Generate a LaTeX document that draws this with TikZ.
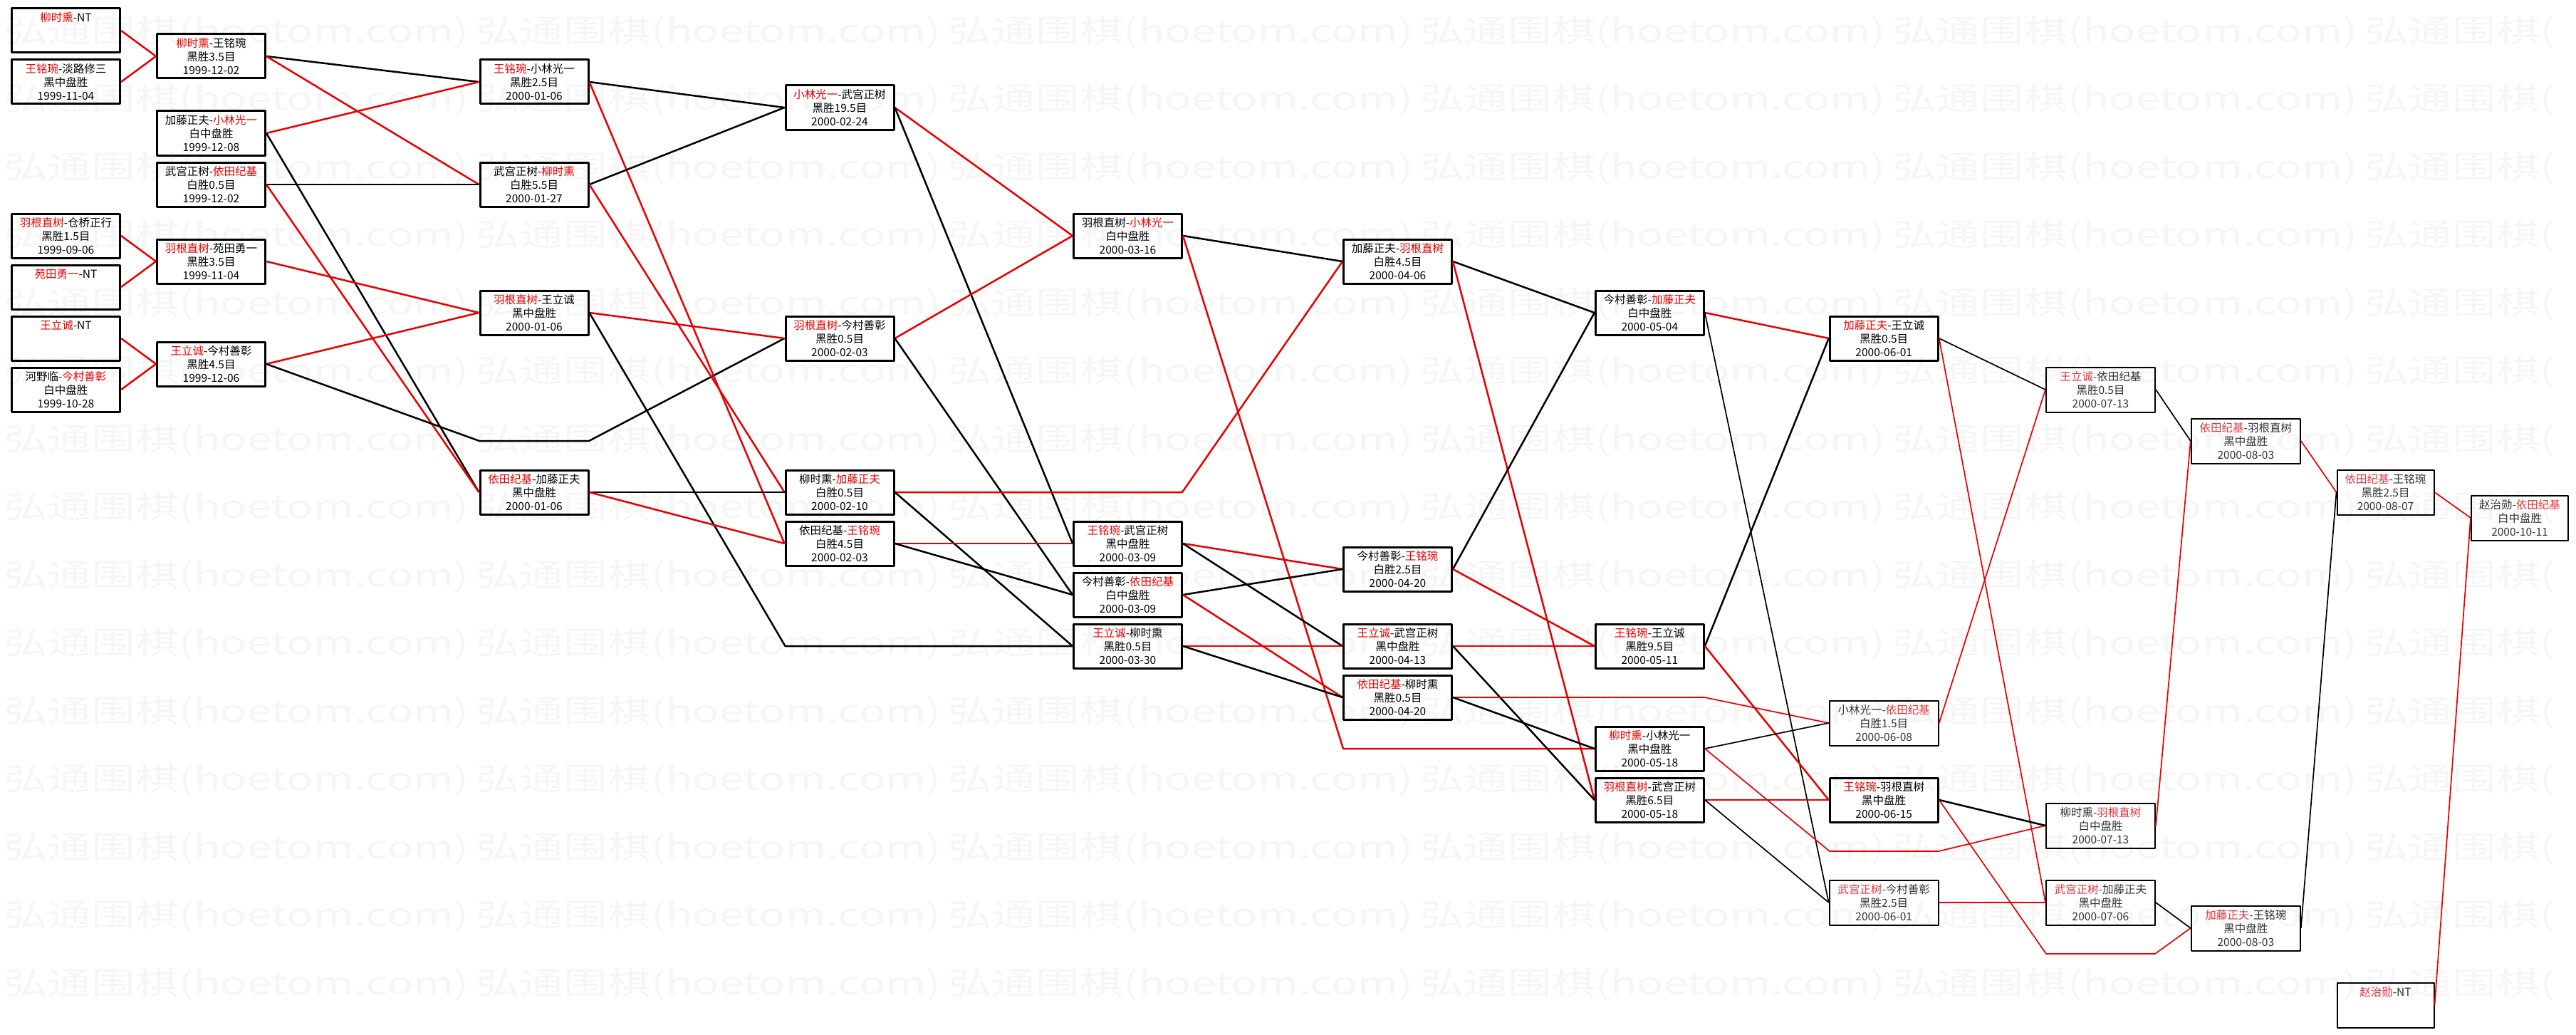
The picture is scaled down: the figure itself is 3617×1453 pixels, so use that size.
\documentclass[tikz,border=0pt]{standalone}
\usepackage{fontspec}
\setmainfont{Noto Sans CJK SC}
\definecolor{winred}{RGB}{232,0,0}
\definecolor{latered}{RGB}{226,52,58}
\colorlet{namered}{winred}
\newcommand{\win}[1]{\textcolor{namered}{#1}}
\newcommand{\gs}{\rule[-2.6pt]{0pt}{18.1pt}}
\newcommand{\gamerec}[3]{\gs#1\\\gs#2\\\gs#3}
\newcommand{\wm}[1]{\scalebox{1.4}[1]{#1}}

\begin{document}
\begin{tikzpicture}[x=1pt, y=-1pt, line join=round,
    game/.style={draw, line width=3pt, minimum width=152pt, minimum height=62pt,
      inner sep=0pt, align=center, font=\fontsize{15.5}{18.7}\selectfont},
    late/.style={game, line width=2pt, minimum width=153pt, minimum height=63pt,
      text=black!80, execute at begin node=\colorlet{namered}{latered}},
    narrow/.style={minimum width=136pt},
    won/.style={draw=winred, line width=2.5pt},
    lost/.style={draw=black, line width=2.5pt},
    thin/.style={line width=1.7pt},
    wmark/.style={anchor=west, inner sep=0pt, text=black!3.5,
      font=\fontsize{44}{44}\selectfont}]
  \def\colA{92.5}  \def\colB{296.5} \def\colC{750}    \def\colD{1179}
  \def\colE{1583.5}\def\colF{1962.5}\def\colG{2316.3} \def\colH{2645.2}
  \def\colI{2949.5}\def\colJ{3153.3}\def\colK{3349.5} \def\colL{3538}
  \useasboundingbox (0,0) rectangle (3617,1453);
  \fill[white] (0,0) rectangle (3617,1453);

  % watermark
  \foreach \k in {0,...,14} {
    \foreach \i in {0,...,4}
      \node[wmark] at (5+663*\i, 45+95.5*\k) {\wm{弘通围棋(hoetom.com)}};
    \node[wmark] at (3320, 45+95.5*\k) {\wm{弘通围棋(}};
  }

  % games
  \node[game] (a1) at (\colA,43)  {\gamerec{\win{柳时熏}-NT}{}{}};
  \node[game] (a2) at (\colA,115) {\gamerec{\win{王铭琬}-淡路修三}{黑中盘胜}{1999-11-04}};
  \node[game] (a3) at (\colA,331) {\gamerec{\win{羽根直树}-仓桥正行}{黑胜1.5目}{1999-09-06}};
  \node[game] (a4) at (\colA,403) {\gamerec{\win{苑田勇一}-NT}{}{}};
  \node[game] (a5) at (\colA,475) {\gamerec{\win{王立诚}-NT}{}{}};
  \node[game] (a6) at (\colA,547) {\gamerec{河野临-\win{今村善彰}}{白中盘胜}{1999-10-28}};

  \node[game] (b1) at (\colB,79)  {\gamerec{\win{柳时熏}-王铭琬}{黑胜3.5目}{1999-12-02}};
  \node[game] (b2) at (\colB,187) {\gamerec{加藤正夫-\win{小林光一}}{白中盘胜}{1999-12-08}};
  \node[game] (b3) at (\colB,259) {\gamerec{武宫正树-\win{依田纪基}}{白胜0.5目}{1999-12-02}};
  \node[game] (b4) at (\colB,367) {\gamerec{\win{羽根直树}-苑田勇一}{黑胜3.5目}{1999-11-04}};
  \node[game] (b5) at (\colB,511) {\gamerec{\win{王立诚}-今村善彰}{黑胜4.5目}{1999-12-06}};

  \node[game] (c1) at (\colC,115) {\gamerec{\win{王铭琬}-小林光一}{黑胜2.5目}{2000-01-06}};
  \node[game] (c2) at (\colC,259) {\gamerec{武宫正树-\win{柳时熏}}{白胜5.5目}{2000-01-27}};
  \node[game] (c3) at (\colC,439) {\gamerec{\win{羽根直树}-王立诚}{黑中盘胜}{2000-01-06}};
  \node[game] (c4) at (\colC,691) {\gamerec{\win{依田纪基}-加藤正夫}{黑中盘胜}{2000-01-06}};

  \node[game] (d1) at (\colD,151) {\gamerec{\win{小林光一}-武宫正树}{黑胜19.5目}{2000-02-24}};
  \node[game] (d2) at (\colD,475) {\gamerec{\win{羽根直树}-今村善彰}{黑胜0.5目}{2000-02-03}};
  \node[game] (d3) at (\colD,691) {\gamerec{柳时熏-\win{加藤正夫}}{白胜0.5目}{2000-02-10}};
  \node[game] (d4) at (\colD,763) {\gamerec{依田纪基-\win{王铭琬}}{白胜4.5目}{2000-02-03}};

  \node[game] (e1) at (\colE,331) {\gamerec{羽根直树-\win{小林光一}}{白中盘胜}{2000-03-16}};
  \node[game] (e2) at (\colE,763) {\gamerec{\win{王铭琬}-武宫正树}{黑中盘胜}{2000-03-09}};
  \node[game] (e3) at (\colE,835) {\gamerec{今村善彰-\win{依田纪基}}{白中盘胜}{2000-03-09}};
  \node[game] (e4) at (\colE,907) {\gamerec{\win{王立诚}-柳时熏}{黑胜0.5目}{2000-03-30}};

  \node[game] (f1) at (\colF,367) {\gamerec{加藤正夫-\win{羽根直树}}{白胜4.5目}{2000-04-06}};
  \node[game] (f2) at (\colF,799) {\gamerec{今村善彰-\win{王铭琬}}{白胜2.5目}{2000-04-20}};
  \node[game] (f3) at (\colF,907) {\gamerec{\win{王立诚}-武宫正树}{黑中盘胜}{2000-04-13}};
  \node[game] (f4) at (\colF,979) {\gamerec{\win{依田纪基}-柳时熏}{黑胜0.5目}{2000-04-20}};

  \node[game] (g1) at (\colG,439)  {\gamerec{今村善彰-\win{加藤正夫}}{白中盘胜}{2000-05-04}};
  \node[game] (g2) at (\colG,907)  {\gamerec{\win{王铭琬}-王立诚}{黑胜9.5目}{2000-05-11}};
  \node[game] (g3) at (\colG,1051) {\gamerec{\win{柳时熏}-小林光一}{黑中盘胜}{2000-05-18}};
  \node[game] (g4) at (\colG,1123) {\gamerec{\win{羽根直树}-武宫正树}{黑胜6.5目}{2000-05-18}};

  \node[game] (h1) at (\colH,475)  {\gamerec{\win{加藤正夫}-王立诚}{黑胜0.5目}{2000-06-01}};
  \node[late] (h2) at (\colH,1015) {\gamerec{小林光一-\win{依田纪基}}{白胜1.5目}{2000-06-08}};
  \node[game] (h3) at (\colH,1123) {\gamerec{\win{王铭琬}-羽根直树}{黑中盘胜}{2000-06-15}};
  \node[late] (h4) at (\colH,1267) {\gamerec{\win{武宫正树}-今村善彰}{黑胜2.5目}{2000-06-01}};

  \node[late] (i1) at (\colI,547)  {\gamerec{\win{王立诚}-依田纪基}{黑胜0.5目}{2000-07-13}};
  \node[late] (i2) at (\colI,1159) {\gamerec{柳时熏-\win{羽根直树}}{白中盘胜}{2000-07-13}};
  \node[late] (i3) at (\colI,1267) {\gamerec{\win{武宫正树}-加藤正夫}{黑中盘胜}{2000-07-06}};

  \node[late] (j1) at (\colJ,619)  {\gamerec{\win{依田纪基}-羽根直树}{黑中盘胜}{2000-08-03}};
  \node[late] (j2) at (\colJ,1303) {\gamerec{\win{加藤正夫}-王铭琬}{黑中盘胜}{2000-08-03}};

  \node[late, narrow] (k1) at (\colK,691)  {\gamerec{\win{依田纪基}-王铭琬}{黑胜2.5目}{2000-08-07}};
  \node[late, narrow] (k2) at (\colK,1411) {\gamerec{\win{赵治勋}-NT}{}{}};
  \node[late, narrow] (l1) at (\colL,727)  {\gamerec{赵治勋-\win{依田纪基}}{白中盘胜}{2000-10-11}};

  % bends
  \coordinate (bk1) at (673,619);
  \coordinate (bk2) at (827,619);
  \coordinate (bk3) at (1102.5,907);
  \coordinate (bk4) at (1660,691);
  \coordinate (bk5) at (1886,1051);
  \coordinate (bk6) at (2393,979);
  \coordinate (bk7) at (2569,1195);
  \coordinate (bk8) at (2722,1195);
  \coordinate (bk9) at (2873,1339);
  \coordinate (bk10) at (3026,1339);

  % first round
  \draw[won] (a1.east) -- (b1.west);
  \draw[won] (a2.east) -- (b1.west);
  \draw[won] (a3.east) -- (b4.west);
  \draw[won] (a4.east) -- (b4.west);
  \draw[won] (a5.east) -- (b5.west);
  \draw[won] (a6.east) -- (b5.west);
  % second round
  \draw[lost] (b1.east) -- (c1.west);
  \draw[won] (b1.east) -- (c2.west);
  \draw[won] (b2.east) -- (c1.west);
  \draw[lost] (b2.east) -- (c4.west);
  \draw[lost] (b3.east) -- (c2.west);
  \draw[won] (b3.east) -- (c4.west);
  \draw[won] (b4.east) -- (c3.west);
  \draw[won] (b5.east) -- (c3.west);
  \draw[lost] (b5.east) -- (bk1) -- (bk2) -- (d2.west);
  % third round
  \draw[lost] (c1.east) -- (d1.west);
  \draw[won] (c1.east) -- (d4.west);
  \draw[lost] (c2.east) -- (d1.west);
  \draw[won] (c2.east) -- (d3.west);
  \draw[won] (c3.east) -- (d2.west);
  \draw[lost] (c3.east) -- (bk3) -- (e4.west);
  \draw[lost] (c4.east) -- (d3.west);
  \draw[won] (c4.east) -- (d4.west);
  % fourth round
  \draw[won] (d1.east) -- (e1.west);
  \draw[lost] (d1.east) -- (e2.west);
  \draw[won] (d2.east) -- (e1.west);
  \draw[lost] (d2.east) -- (e3.west);
  \draw[won] (d3.east) -- (bk4) -- (f1.west);
  \draw[lost] (d3.east) -- (e4.west);
  \draw[won] (d4.east) -- (e2.west);
  \draw[lost] (d4.east) -- (e3.west);
  % fifth round
  \draw[lost] (e1.east) -- (f1.west);
  \draw[won] (e1.east) -- (bk5) -- (g3.west);
  \draw[won] (e2.east) -- (f2.west);
  \draw[lost] (e2.east) -- (f3.west);
  \draw[lost] (e3.east) -- (f2.west);
  \draw[won] (e3.east) -- (f4.west);
  \draw[won] (e4.east) -- (f3.west);
  \draw[lost] (e4.east) -- (f4.west);
  % sixth round
  \draw[lost] (f1.east) -- (g1.west);
  \draw[won] (f1.east) -- (g4.west);
  \draw[lost] (f2.east) -- (g1.west);
  \draw[won] (f2.east) -- (g2.west);
  \draw[won] (f3.east) -- (g2.west);
  \draw[lost] (f3.east) -- (g4.west);
  \draw[won, thin] (f4.east) -- (bk6) -- (h2.west);
  \draw[lost] (f4.east) -- (g3.west);
  % seventh round
  \draw[won] (g1.east) -- (h1.west);
  \draw[lost, thin] (g1.east) -- (h4.west);
  \draw[lost] (g2.east) -- (h1.west);
  \draw[won] (g2.east) -- (h3.west);
  \draw[lost, thin] (g3.east) -- (h2.west);
  \draw[won, thin] (g3.east) -- (bk7) -- (bk8) -- (i2.west);
  \draw[won] (g4.east) -- (h3.west);
  \draw[lost, thin] (g4.east) -- (h4.west);
  % eighth round
  \draw[lost, thin] (h1.east) -- (i1.west);
  \draw[won, thin] (h1.east) -- (i3.west);
  \draw[won, thin] (h2.east) -- (i1.west);
  \draw[lost] (h3.east) -- (i2.west);
  \draw[won, thin] (h3.east) -- (bk9) -- (bk10) -- (j2.west);
  \draw[won, thin] (h4.east) -- (i3.west);
  % last rounds
  \draw[lost, thin] (i1.east) -- (j1.west);
  \draw[won, thin] (i2.east) -- (j1.west);
  \draw[lost, thin] (i3.east) -- (j2.west);
  \draw[won, thin] (j1.east) -- (k1.west);
  \draw[lost, thin] (j2.east) -- (k1.west);
  \draw[won, thin] (k1.east) -- (l1.west);
  \draw[won, thin] (k2.east) -- (l1.west);
\end{tikzpicture}
\end{document}
